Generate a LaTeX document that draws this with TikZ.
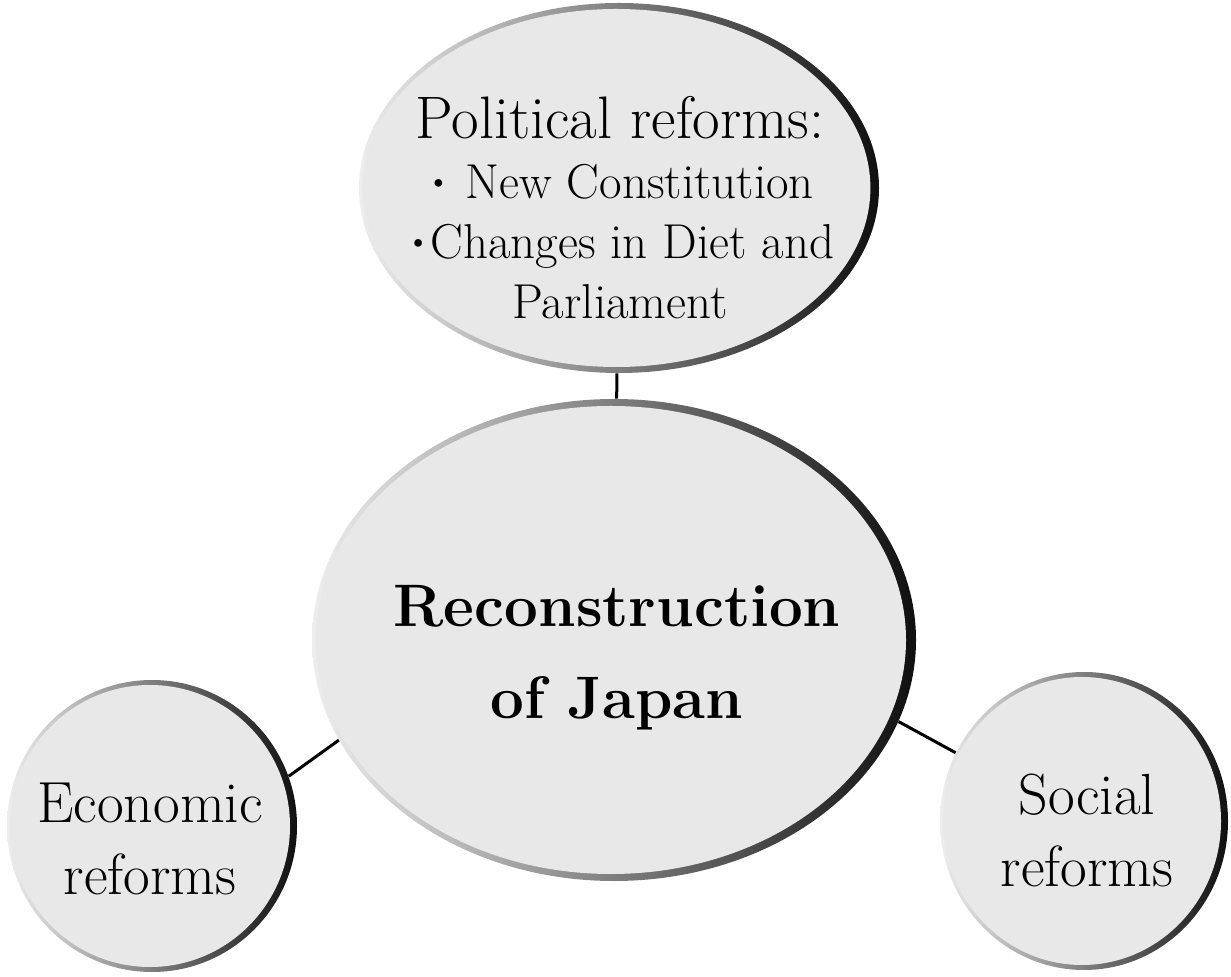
\documentclass[tikz,border=0pt]{standalone}
\usepackage{graphicx}
\usepackage{tikz}
\usetikzlibrary{shapes.geometric}
\definecolor{bubblegray}{RGB}{232,232,232}
\definecolor{rimlight}{RGB}{238,238,238}
\definecolor{rimdark}{RGB}{15,15,15}
\newcommand{\smallbul}{\raisebox{0.12em}{\scalebox{0.7}{\textbullet}}}

\begin{document}
\begin{tikzpicture}[x=0.5pt,y=-0.5pt,
    ring/.style={ellipse,inner sep=0pt,left color=rimlight,right color=rimdark},
    bubble/.style={ellipse,inner sep=0pt,fill=bubblegray},
    txt/.style={align=center,inner sep=0pt,font=\fontsize{29}{36}\selectfont},
    link/.style={line width=1.5pt,black}
  ]
  \useasboundingbox (0,0) rectangle (1231,977);
  \node[ring,minimum width=260pt,minimum height=185pt] (polRing) at (619,188) {};
  \node[bubble,minimum width=254pt,minimum height=179pt] (pol) at ([xshift=-1.3pt]polRing) {};
  \node[ring,minimum width=302pt,minimum height=241pt] (recRing) at (614,640) {};
  \node[bubble,minimum width=295pt,minimum height=234pt] (rec) at ([xshift=-1.5pt]recRing) {};
  \node[ring,minimum width=145pt,minimum height=146pt] (ecoRing) at (152,826) {};
  \node[bubble,minimum width=140pt,minimum height=141pt] (eco) at ([xshift=-1pt]ecoRing) {};
  \node[ring,minimum width=144pt,minimum height=149pt] (socRing) at (1084,821) {};
  \node[bubble,minimum width=139pt,minimum height=144pt] (soc) at ([xshift=-1pt]socRing) {};
    \node[txt,font=\fontsize{24.5}{30}\selectfont] (polText) at (620,208) {{\fontsize{30}{30}\selectfont Political reforms:}\\ \smallbul{} New Constitution\\ \smallbul Changes in Diet and\\ Parliament};
    \node[txt,font=\bfseries\fontsize{30}{46}\selectfont] (recText) at (617,658) {Reconstruction\\ of Japan};
    \node[txt] (ecoText) at (150,839) {Economic\\ reforms};
    \node[txt] (socText) at (1087,830) {Social\\ reforms};
    \draw[link] (polRing) -- (recRing);
    \draw[link] (ecoRing.20) -- (recRing.200);
    \draw[link] (socRing.152) -- (recRing.-16);
\end{tikzpicture}
\end{document}
